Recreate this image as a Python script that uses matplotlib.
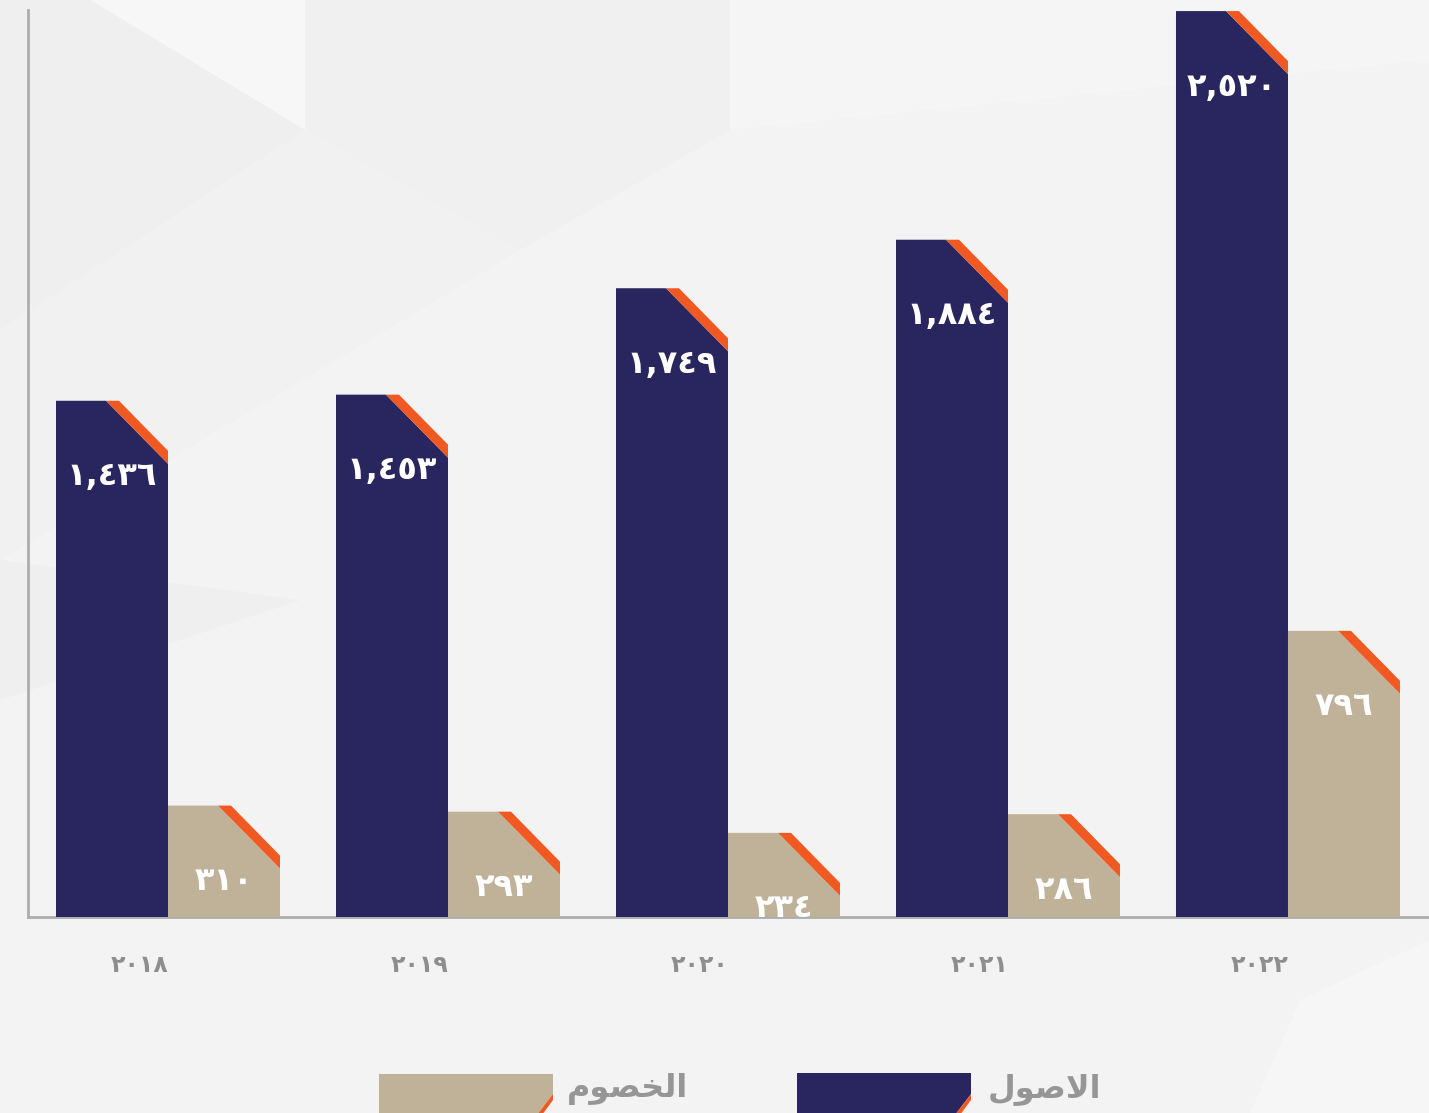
import matplotlib
matplotlib.use("Agg")
import matplotlib.pyplot as plt
from matplotlib.patches import Polygon

# ---- data ----
years = ["2018", "2019", "2020", "2021", "2022"]
assets = [1436, 1453, 1749, 1884, 2520]        # الاصول
liabilities = [310, 293, 234, 286, 796]        # الخصوم
label_assets = "الاصول"
label_liab = "الخصوم"

NAVY = "#29265f"
TAN = "#c0b299"
ORANGE = "#f05a22"
BG = "#f3f3f3"
GREY_TXT = "#8e8e8e"

AR_DIGITS = str.maketrans("0123456789", "٠١٢٣٤٥٦٧٨٩")

def ar_num(v, comma=True):
    s = f"{v:,}" if comma else str(v)
    return s.translate(AR_DIGITS)

# presentation forms (visual order) for the two legend words
SHAPED = {
    "الاصول": "\uFEDD\uFEEE\uFEBB\uFEFB\uFE8D",
    "الخصوم": "\uFEE1\uFEEE\uFEBC\uFEA8\uFEDF\uFE8D",
}

W, H, DPI = 1429, 1113, 100
fig = plt.figure(figsize=(W / DPI, H / DPI), dpi=DPI)
fig.patch.set_facecolor(BG)

# background axes in pixel coords (y down)
bg = fig.add_axes([0, 0, 1, 1], zorder=-10)
bg.set_xlim(0, W)
bg.set_ylim(H, 0)
bg.axis("off")

def bpoly(axh, pts, color):
    axh.add_patch(Polygon(pts, closed=True, facecolor=color, edgecolor="none"))

bpoly(bg, [(0, 0), (90, 0), (305, 130), (305, 0)], "#f7f7f7")
bpoly(bg, [(0, 0), (90, 0), (305, 130), (0, 330)], "#efefef")
bpoly(bg, [(305, 0), (730, 0), (730, 130), (520, 250), (305, 130)], "#f0f0f0")
bpoly(bg, [(0, 330), (305, 130), (520, 250), (0, 560)], "#f1f1f1")
bpoly(bg, [(0, 560), (300, 600), (0, 700)], "#efefef")
bpoly(bg, [(730, 0), (1429, 0), (1429, 60), (730, 130)], "#f5f5f5")
bpoly(bg, [(1300, 1000), (1429, 940), (1429, 1113), (1250, 1113)], "#f6f6f6")

# ---- axes ----
ax_left, ax_right = 28 / W, 1.0
ax_bottom, ax_top = (H - 917) / H, (H - 10) / H
ax = fig.add_axes([ax_left, ax_bottom, ax_right - ax_left, ax_top - ax_bottom], zorder=1)
ax.set_facecolor("none")
ax.set_xlim(-0.5, 4.5036)
ax.set_ylim(0, 2523)
for s in ["top", "right"]:
    ax.spines[s].set_visible(False)
for s in ["left", "bottom"]:
    ax.spines[s].set_color("#adadad")
    ax.spines[s].set_linewidth(2)
ax.set_xticks([])
ax.set_yticks([])

px_x = (4.5036 + 0.5) / (W * (ax_right - ax_left))
px_y = 2523 / (H * (ax_top - ax_bottom))

bw = 0.4
c_in_x, c_in_y = 62 * px_x, 63 * px_y
c_out_x, c_out_y = 49 * px_x, 50 * px_y


def cut_bar(x0, val, color):
    x1 = x0 + bw
    body = Polygon([(x0, 0), (x1, 0), (x1, val - c_in_y), (x1 - c_in_x, val), (x0, val)],
                   closed=True, facecolor=color, edgecolor="none", zorder=3)
    stripe = Polygon([(x1 - c_in_x, val), (x1 - c_out_x, val), (x1, val - c_out_y),
                      (x1, val - c_in_y)],
                     closed=True, facecolor=ORANGE, edgecolor="none", zorder=3)
    ax.add_patch(body)
    ax.add_patch(stripe)
    ax.text(x0 + bw / 2, val - 76 * px_y, ar_num(val), ha="center", va="center",
            color="white", fontsize=23, fontweight="bold", family="DejaVu Sans", zorder=4)


for i, (a, l) in enumerate(zip(assets, liabilities)):
    cut_bar(i - bw, a, NAVY)
    cut_bar(i, l, TAN)
    ax.text(i - 0.1, -(965 - 917) / (917 - 10), ar_num(int(years[i]), comma=False),
            transform=ax.get_xaxis_transform(), ha="center", va="center",
            color=GREY_TXT, fontsize=17, fontweight="bold", family="DejaVu Sans")

# ---- legend (overlay axes in pixel coords) ----
ov = fig.add_axes([0, 0, 1, 1], zorder=5)
ov.set_xlim(0, W)
ov.set_ylim(H, 0)
ov.axis("off")
ov.patch.set_alpha(0)

def legend_patch(x0, x1, y0, color):
    yb = H + 2
    bpoly(ov, [(x0, y0), (x1, y0), (x1, 1094), (x1 - 16, yb), (x0, yb)], color)
    bpoly(ov, [(x1, 1094), (x1, 1100), (x1 - 11, yb), (x1 - 16, yb)], ORANGE)

legend_patch(379, 553, 1074, TAN)
legend_patch(797, 971, 1073, NAVY)
ov.text(567, 1089, SHAPED[label_liab], ha="left", va="center",
        color="#969696", fontsize=23, fontweight="bold", family="DejaVu Sans")
ov.text(988, 1089, SHAPED[label_assets], ha="left", va="center",
        color="#969696", fontsize=23, fontweight="bold", family="DejaVu Sans")

fig.savefig("out.png", dpi=DPI, facecolor=BG)
